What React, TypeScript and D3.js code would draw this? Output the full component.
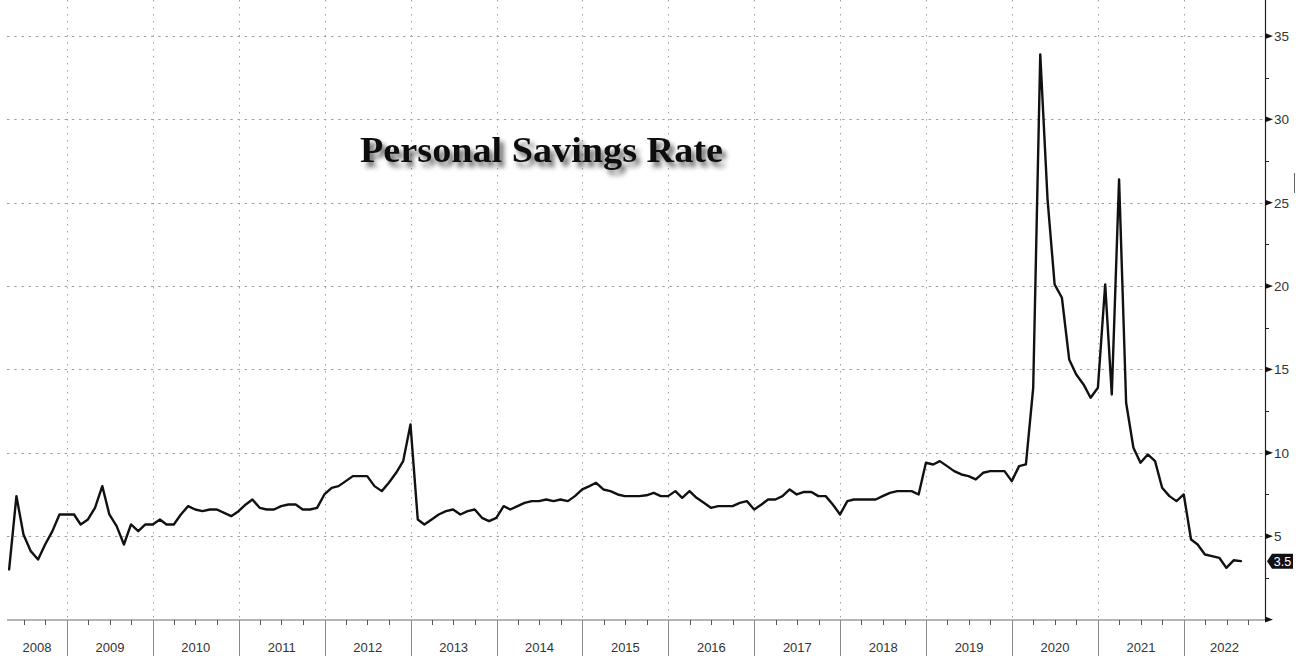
import React from "react";
import * as d3 from "d3";

// Monthly personal savings rate (%), April 2008 .. August 2022
const startYear = 2008;
const startMonth = 3; // April (0-based)
const savingsRate: number[] = [
  // 2008 Apr-Dec
  3.0, 7.4, 5.1, 4.1, 3.6, 4.5, 5.3, 6.3, 6.3,
  // 2009
  6.3, 5.7, 6.0, 6.7, 8.0, 6.3, 5.6, 4.5, 5.7, 5.3, 5.7, 5.7,
  // 2010
  6.0, 5.7, 5.7, 6.3, 6.8, 6.6, 6.5, 6.6, 6.6, 6.4, 6.2, 6.5,
  // 2011
  6.9, 7.2, 6.7, 6.6, 6.6, 6.8, 6.9, 6.9, 6.6, 6.6, 6.7, 7.5,
  // 2012
  7.9, 8.0, 8.3, 8.6, 8.6, 8.6, 8.0, 7.7, 8.2, 8.8, 9.5, 11.7,
  // 2013
  6.0, 5.7, 6.0, 6.3, 6.5, 6.6, 6.3, 6.5, 6.6, 6.1, 5.9, 6.1,
  // 2014
  6.8, 6.6, 6.8, 7.0, 7.1, 7.1, 7.2, 7.1, 7.2, 7.1, 7.4, 7.8,
  // 2015
  8.0, 8.2, 7.8, 7.7, 7.5, 7.4, 7.4, 7.4, 7.45, 7.6, 7.4, 7.4,
  // 2016
  7.7, 7.3, 7.7, 7.3, 7.0, 6.7, 6.8, 6.8, 6.8, 7.0, 7.1, 6.6,
  // 2017
  6.9, 7.2, 7.2, 7.4, 7.8, 7.5, 7.65, 7.65, 7.4, 7.4, 6.9, 6.3,
  // 2018
  7.1, 7.2, 7.2, 7.2, 7.2, 7.4, 7.6, 7.7, 7.7, 7.7, 7.5, 9.4,
  // 2019
  9.3, 9.5, 9.2, 8.9, 8.7, 8.6, 8.4, 8.8, 8.9, 8.9, 8.9, 8.3,
  // 2020
  9.2, 9.3, 13.9, 33.9, 25.2, 20.1, 19.3, 15.6, 14.7, 14.1, 13.3, 13.9,
  // 2021
  20.1, 13.5, 26.4, 13.0, 10.3, 9.4, 9.9, 9.5, 7.9, 7.4, 7.1, 7.5,
  // 2022 Jan-Aug
  4.8, 4.5, 3.9, 3.8, 3.7, 3.1, 3.55, 3.5,
];

const yearLabels = ["2008", "2009", "2010", "2011", "2012", "2013", "2014", "2015",
  "2016", "2017", "2018", "2019", "2020", "2021", "2022"];
const yMajorTicks = [0, 5, 10, 15, 20, 25, 30, 35];
const yMinorTicks = [2.5, 7.5, 12.5, 17.5, 22.5, 27.5, 32.5];
const titleText = "Personal Savings Rate";
const lastValueLabel = "3.5";

const W = 1302;
const H = 656;
const plotLeft = 7;
const plotRight = 1265;
const plotTop = 0;
const plotBottom = 619.5;

export default function App() {
  const x = d3
    .scaleTime()
    .domain([new Date(2009, 0, 1), new Date(2022, 0, 1)])
    .range([67, 1184]);
  const y = d3.scaleLinear().domain([0, 35]).range([plotBottom, 36]);

  const points = savingsRate.map((v, i) => ({
    date: new Date(startYear, startMonth + i + 1, 0), // month-end
    value: v,
  }));

  const line = d3
    .line<{ date: Date; value: number }>()
    .x((d) => x(d.date))
    .y((d) => y(d.value))
    .curve(d3.curveLinear);

  const yearStarts = yearLabels.map((yr) => new Date(+yr, 0, 1));
  const boundaries = yearStarts.slice(1).map((d) => x(d));

  const quarterTicks: number[] = [];
  yearLabels.forEach((yr) => {
    [3, 6, 9].forEach((m) => {
      const px = x(new Date(+yr, m, 1));
      if (px > plotLeft && px < plotRight) quarterTicks.push(px);
    });
  });

  const last = points[points.length - 1];
  const lastY = y(last.value);

  const labelFont = "'Liberation Sans', Arial, sans-serif";

  return (
    <svg
      width={W}
      height={H}
      style={{ position: "absolute", left: 0, top: 0, display: "block", background: "#fff" }}
    >
      <defs>
        <filter id="tshadow" x="-10%" y="-30%" width="120%" height="180%">
          <feGaussianBlur in="SourceAlpha" stdDeviation="2.6" result="blur" />
          <feOffset in="blur" dx="4" dy="5" result="off" />
          <feComponentTransfer in="off" result="soft">
            <feFuncA type="linear" slope="0.6" />
          </feComponentTransfer>
          <feMerge>
            <feMergeNode in="soft" />
            <feMergeNode in="SourceGraphic" />
          </feMerge>
        </filter>
        <clipPath id="plotclip">
          <rect x={plotLeft} y={plotTop} width={plotRight - plotLeft} height={plotBottom - plotTop + 2} />
        </clipPath>
      </defs>
      <rect x={0} y={0} width={W} height={H} fill="#fff" />

      {/* horizontal grid */}
      {yMajorTicks
        .filter((t) => t > 0)
        .map((t) => (
          <line
            key={"hg" + t}
            x1={plotLeft}
            x2={plotRight}
            y1={Math.round(y(t)) + 0.5}
            y2={Math.round(y(t)) + 0.5}
            stroke="#a0a0a0"
            strokeWidth={1}
            strokeDasharray="2.5,4.7"
          />
        ))}

      {/* vertical grid at year boundaries */}
      {boundaries.map((bx, i) => (
        <line
          key={"vg" + i}
          x1={Math.round(bx) + 0.5}
          x2={Math.round(bx) + 0.5}
          y1={plotTop}
          y2={plotBottom}
          stroke="#a0a0a0"
          strokeWidth={1}
          strokeDasharray="1.5,5.5"
        />
      ))}

      {/* title */}
      <text
        x={360}
        y={162}
        fontFamily="'Liberation Serif', 'Times New Roman', serif"
        fontWeight="bold"
        fontSize={35}
        fill="#111"
        textLength={363}
        lengthAdjust="spacingAndGlyphs"
        filter="url(#tshadow)"
      >
        {titleText}
      </text>

      {/* data line */}
      <g clipPath="url(#plotclip)">
        <path
          d={line(points) || ""}
          fill="none"
          stroke="#111"
          strokeWidth={2.4}
          strokeLinejoin="round"
          strokeLinecap="round"
        />
      </g>

      {/* x axis */}
      <line x1={plotLeft} x2={plotRight} y1={620} y2={620} stroke="#6a6a6a" strokeWidth={1} />
      {quarterTicks.map((qx, i) => (
        <line
          key={"qt" + i}
          x1={Math.round(qx) + 0.5}
          x2={Math.round(qx) + 0.5}
          y1={620}
          y2={625}
          stroke="#555"
          strokeWidth={1}
        />
      ))}
      {boundaries.map((bx, i) => (
        <line
          key={"sep" + i}
          x1={Math.round(bx) + 0.5}
          x2={Math.round(bx) + 0.5}
          y1={620}
          y2={H}
          stroke="#8a8a8a"
          strokeWidth={1}
        />
      ))}
      {yearLabels.map((yr, i) => {
        const a = Math.max(x(yearStarts[i]), plotLeft);
        const b = Math.min(i + 1 < yearStarts.length ? x(yearStarts[i + 1]) : plotRight, plotRight);
        return (
          <text
            key={"yl" + yr}
            x={(a + b) / 2}
            y={652}
            textAnchor="middle"
            fontFamily={labelFont}
            fontSize={13}
            fill="#333"
          >
            {yr}
          </text>
        );
      })}

      {/* right y axis */}
      <line x1={plotRight + 0.5} x2={plotRight + 0.5} y1={0} y2={620} stroke="#222" strokeWidth={1.2} />
      {yMinorTicks.map((t) => (
        <line
          key={"mt" + t}
          x1={plotRight}
          x2={plotRight + 4}
          y1={Math.round(y(t)) + 0.5}
          y2={Math.round(y(t)) + 0.5}
          stroke="#222"
          strokeWidth={1}
        />
      ))}
      {yMajorTicks.map((t) => {
        const ty = y(t);
        return (
          <g key={"mj" + t}>
            <path
              d={`M${plotRight},${ty - 3} L${plotRight + 8},${ty} L${plotRight},${ty + 3} Z`}
              fill="#111"
            />
            {t > 0 && (
              <text
                x={plotRight + 9}
                y={ty}
                dy="0.36em"
                fontFamily={labelFont}
                fontSize={13.5}
                fill="#333"
              >
                {t}
              </text>
            )}
          </g>
        );
      })}

      {/* last value marker */}
      <path
        d={`M${plotRight + 2},${lastY} L${plotRight + 7},${lastY - 7.5} L${plotRight + 28},${lastY - 7.5} L${plotRight + 28},${lastY + 7.5} L${plotRight + 7},${lastY + 7.5} Z`}
        fill="#111"
      />
      <text
        x={plotRight + 17.5}
        y={lastY}
        dy="0.36em"
        textAnchor="middle"
        fontFamily={labelFont}
        fontSize={12.5}
        fill="#fff"
      >
        {lastValueLabel}
      </text>

      {/* small stray mark at right edge */}
      <line x1={1294.5} x2={1294.5} y1={173} y2={193} stroke="#666" strokeWidth={1} />
    </svg>
  );
}
